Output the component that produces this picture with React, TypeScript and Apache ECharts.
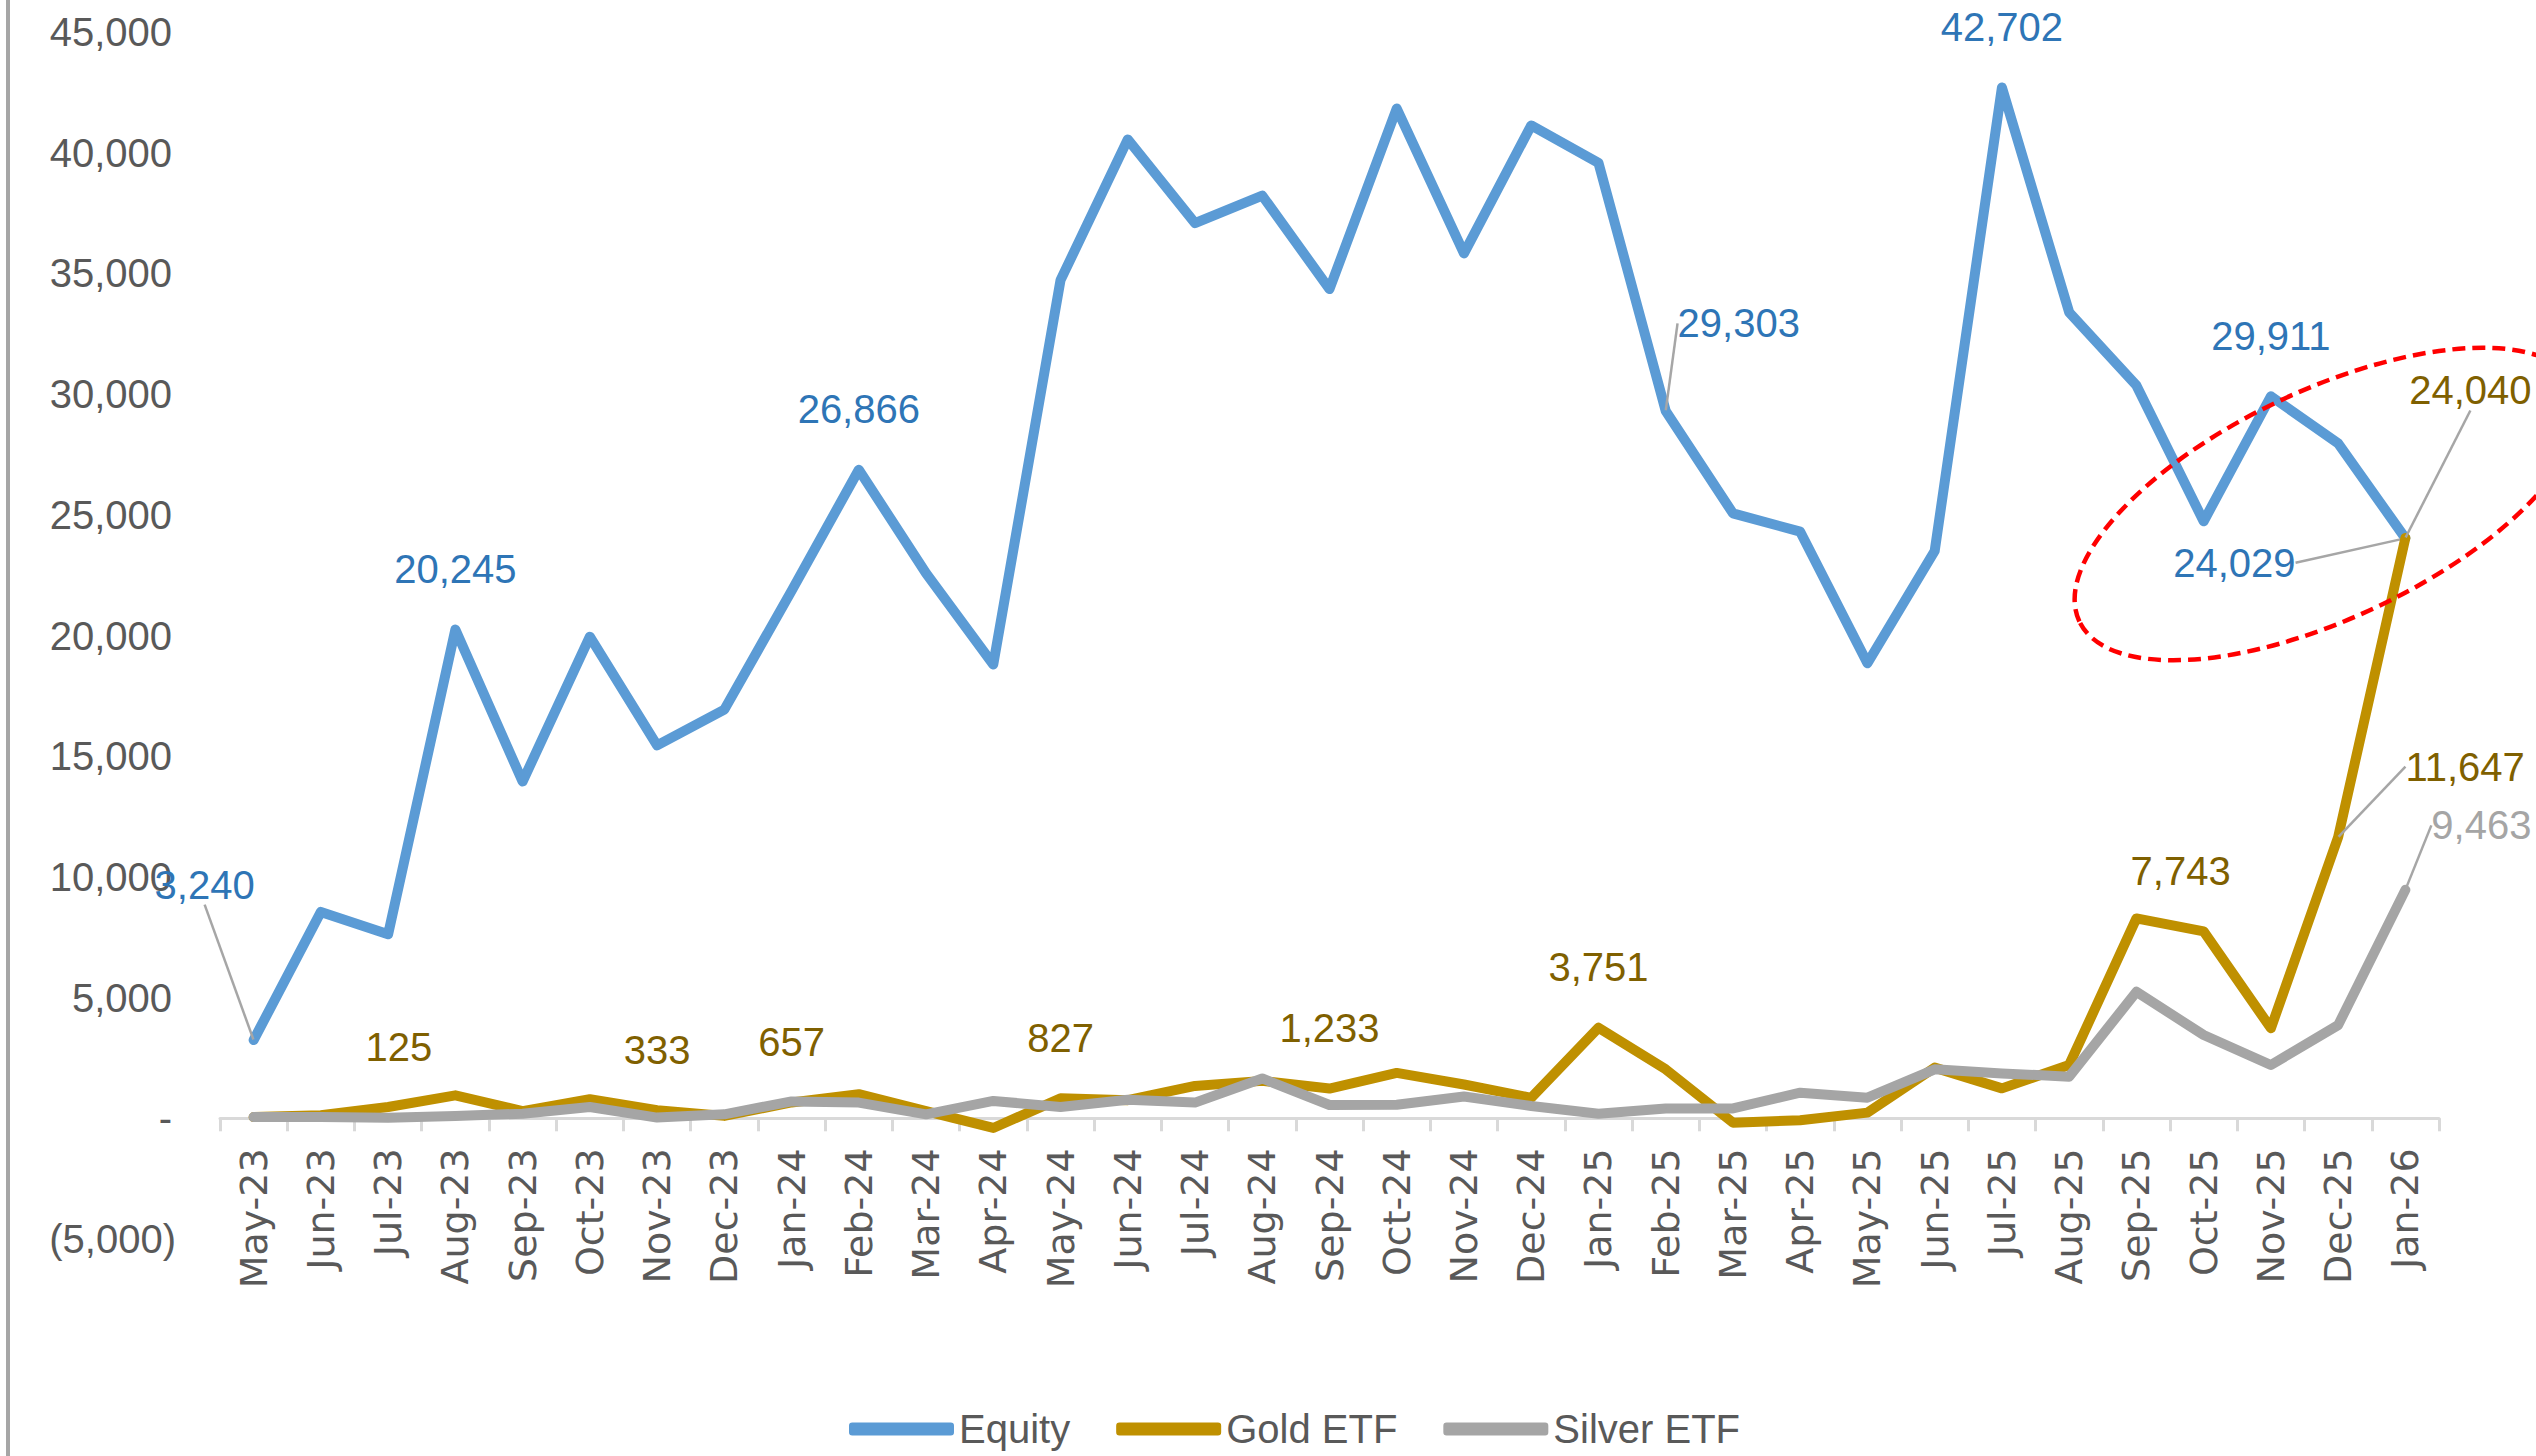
import React, { useEffect, useRef } from "react";
import * as echarts from "echarts";

const categories = [
  "May-23", "Jun-23", "Jul-23", "Aug-23", "Sep-23", "Oct-23", "Nov-23", "Dec-23",
  "Jan-24", "Feb-24", "Mar-24", "Apr-24", "May-24", "Jun-24", "Jul-24", "Aug-24",
  "Sep-24", "Oct-24", "Nov-24", "Dec-24", "Jan-25", "Feb-25", "Mar-25", "Apr-25",
  "May-25", "Jun-25", "Jul-25", "Aug-25", "Sep-25", "Oct-25", "Nov-25", "Dec-25", "Jan-26",
];

const equity = [
  3240, 8550, 7620, 20245, 13950, 19950, 15450, 16930,
  21850, 26866, 22580, 18800, 34720, 40550, 37080, 38220,
  34350, 41830, 35830, 41130, 39580, 29303, 25060, 24300,
  18850, 23500, 42702, 33390, 30360, 24730, 29911, 27960, 24029,
];

const goldEtf = [
  50, 125, 470, 950, 300, 790, 333, 100,
  657, 1000, 300, -400, 827, 750, 1340, 1550,
  1233, 1880, 1400, 850, 3751, 2030, -180, -80,
  235, 2100, 1240, 2210, 8280, 7743, 3730, 11647, 24040,
];

const silverEtf = [
  50, 50, 20, 100, 190, 470, 30, 165,
  700, 650, 165, 720, 470, 770, 650, 1650,
  550, 560, 900, 510, 190, 410, 410, 1060,
  855, 2030, 1860, 1725, 5240, 3450, 2210, 3860, 9463,
];

const seriesNames = ["Equity", "Gold ETF", "Silver ETF"];

const yMin = -5000;
const yMax = 45000;
const yInterval = 5000;

// which points carry a data label: [index, dx, dy, leaderLine]
const equityLabelSpots: [number, number, number, boolean][] = [
  [0, -49, -95, true],
  [3, 0, 0, false],
  [9, 0, 0, false],
  [21, 73, -27, true],
  [26, 0, 0, false],
  [30, 0, 0, false],
  [32, -171, 85, true],
];
const goldLabelSpots: [number, number, number, boolean][] = [
  [1, 78, -8, false],
  [6, 0, 0, false],
  [8, 0, 0, false],
  [12, 0, 0, false],
  [16, 0, 0, false],
  [20, 0, 0, false],
  [29, -23, 0, false],
  [31, 127, -10, true],
  [32, 65, -87, true],
];
const silverLabelSpots: [number, number, number, boolean][] = [[32, 76, -4, true]];

const COLORS = ["#5B9BD5", "#BF9000", "#A5A5A5"];
const LABEL_COLORS = ["#2E75B6", "#7F6000", "#A5A5A5"];
const FONT = "'Liberation Sans', Arial, sans-serif";

const GRID = { left: 220, right: 97, top: 32, bottom: 217 };
const CHART_H = 1456;

function fmt(v: number) {
  return Math.abs(v).toLocaleString("en-US");
}

function buildData(values: number[], spots: [number, number, number, boolean][]) {
  const map = new Map(spots.map((s) => [s[0], s]));
  return values.map((v, i) => {
    const s = map.get(i);
    if (!s) return v;
    return {
      value: v,
      label: { show: true },
      labelLine: { show: s[3] },
    };
  });
}

function buildSeries(idx: number, values: number[], spots: [number, number, number, boolean][]) {
  const map = new Map(spots.map((s) => [s[0], s]));
  return {
    name: seriesNames[idx],
    type: "line",
    xAxisIndex: 0,
    yAxisIndex: 0,
    data: buildData(values, spots),
    symbol: "circle",
    symbolSize: 1,
    showSymbol: true,
    itemStyle: { color: COLORS[idx] },
    lineStyle: { color: COLORS[idx], width: 10, cap: "round", join: "round" },
    label: {
      show: false,
      position: "top",
      distance: 40,
      color: LABEL_COLORS[idx],
      fontSize: 40,
      fontFamily: FONT,
      formatter: (p: any) => fmt(Number(p.value)),
    },
    labelLine: {
      show: false,
      lineStyle: { color: "#A6A6A6", width: 2.5 },
    },
    labelLayout: (params: any) => {
      const s = map.get(params.dataIndex);
      if (!s) return {};
      return { dx: s[1], dy: s[2] };
    },
    emphasis: { disabled: true },
    z: 2 + idx,
  };
}

export default function App() {
  const ref = useRef<HTMLDivElement>(null);

  useEffect(() => {
    if (!ref.current) return;
    const chart = echarts.init(ref.current, undefined, { renderer: "svg" });
    // distance from the grid bottom up to the zero line, derived from the axis range
    const plotH = CHART_H - GRID.top - GRID.bottom;
    const zeroOffset = (plotH * (0 - yMin)) / (yMax - yMin);
    chart.setOption({
      animation: false,
      backgroundColor: "#ffffff",
      grid: [
        { ...GRID, containLabel: false },
        { ...GRID, containLabel: false },
      ],
      xAxis: [
        {
          type: "category",
          gridIndex: 0,
          data: categories,
          boundaryGap: true,
          offset: -zeroOffset,
          axisLine: { show: true, onZero: false, lineStyle: { color: "#D9D9D9", width: 3 } },
          axisTick: { show: true, length: 13, lineStyle: { color: "#D9D9D9", width: 3 } },
          axisLabel: {
            rotate: 90,
            interval: 0,
            margin: 30,
            color: "#595959",
            fontSize: 38,
            fontFamily: "'DejaVu Sans', Verdana, sans-serif",
          },
          splitLine: { show: false },
        },
        {
          type: "category",
          gridIndex: 1,
          data: categories,
          show: false,
        },
      ],
      yAxis: [
        {
          type: "value",
          gridIndex: 0,
          min: yMin,
          max: yMax,
          interval: yInterval,
          axisLine: { show: false },
          axisTick: { show: false },
          splitLine: { show: false },
          axisLabel: {
            showMinLabel: false,
            margin: 48,
            color: "#595959",
            fontSize: 40,
            fontFamily: FONT,
            formatter: (v: number) => (v < 0 ? "" : v === 0 ? "-" : fmt(v)),
          },
        },
        {
          type: "value",
          gridIndex: 1,
          min: yMin,
          max: yMax,
          interval: yInterval,
          axisLine: { show: false },
          axisTick: { show: false },
          splitLine: { show: false },
          axisLabel: {
            margin: 44,
            color: "#595959",
            fontSize: 40,
            fontFamily: FONT,
            formatter: (v: number) => (v < 0 ? `(${fmt(v)})` : ""),
          },
        },
      ],
      legend: {
        left: 844,
        top: 1404,
        icon: "roundRect",
        itemWidth: 105,
        itemHeight: 13,
        itemGap: 46,
        textStyle: { color: "#595959", fontSize: 40, fontFamily: FONT },
        data: seriesNames,
      },
      series: [
        buildSeries(0, equity, equityLabelSpots),
        buildSeries(1, goldEtf, goldLabelSpots),
        buildSeries(2, silverEtf, silverLabelSpots),
      ],
      graphic: [
        {
          type: "rect",
          shape: { x: 6, y: 0, width: 4, height: CHART_H },
          style: { fill: "#A6A6A6" },
          silent: true,
        },
        {
          type: "ellipse",
          x: 2328,
          y: 504,
          rotation: (25.3 * Math.PI) / 180,
          shape: { cx: 0, cy: 0, rx: 275, ry: 114 },
          style: { fill: "none", stroke: "#FF0000", lineWidth: 4.5, lineDash: [13, 7] },
          z: 100,
          silent: true,
        },
      ],
    });
    return () => chart.dispose();
  }, []);

  return (
    <div
      ref={ref}
      style={{ position: "fixed", left: 0, top: 0, width: 2536, height: CHART_H }}
    />
  );
}
